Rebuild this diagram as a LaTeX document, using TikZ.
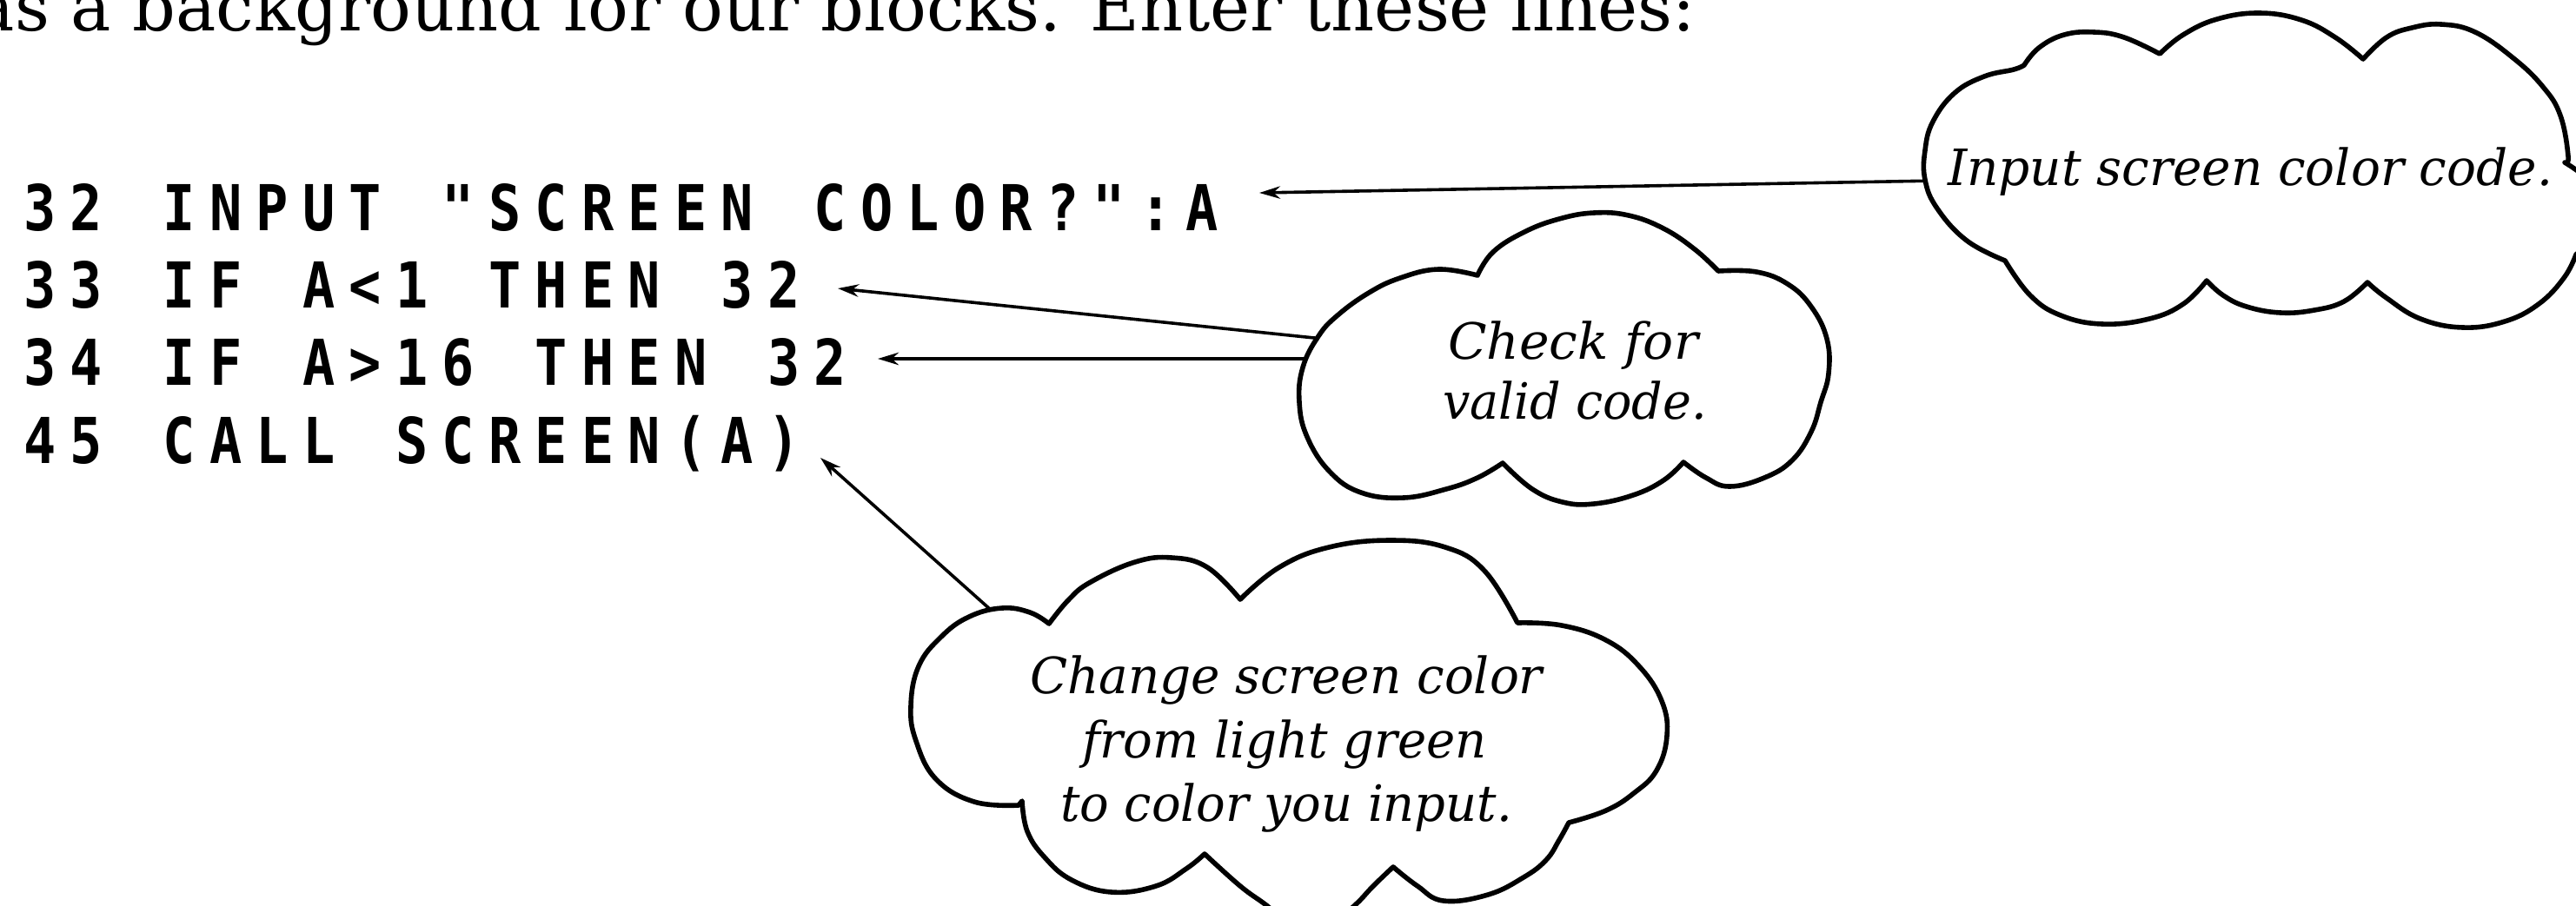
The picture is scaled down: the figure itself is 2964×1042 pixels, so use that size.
\documentclass[tikz,border=0pt]{standalone}
\usepackage{fontspec}
\usepackage{graphicx}
\setmainfont{DejaVu Serif}
\newfontfamily\tifont{DejaVu Sans Mono}
\newfontfamily\cloudfont{DejaVu Serif}
\usetikzlibrary{arrows.meta}
\newlength\tipitch
\setlength\tipitch{13.375pt}
\newcommand\tichar[1]{\makebox[\tipitch][c]{\scalebox{0.85}[1]{#1}}}
\makeatletter
\def\tiline#1{\ti@line#1\relax}
\def\ti@line#1{\ifx#1\relax\else\tichar{#1}\expandafter\ti@line\fi}
\makeatother
\begin{document}
\begin{tikzpicture}[x=0.25pt,y=-0.25pt,
  cloudline/.style={draw=black, line width=1.4pt, fill=white, line join=round},
  callout/.style={line width=0.9pt, -{Stealth[length=6pt,width=3.6pt]}},
  codeline/.style={anchor=base west, inner sep=0pt, font=\tifont\bfseries\fontsize{18.2pt}{18.2pt}\selectfont},
  note/.style={anchor=base, inner sep=0pt, font=\cloudfont\itshape\fontsize{14.4pt}{17pt}\selectfont},
  lobe/.style={smooth, tension=0.7}]
\useasboundingbox (0,0) rectangle (2964,1042);

% intro text (cut at the top)
\node[anchor=base west, inner sep=0pt, font=\fontsize{19.5pt}{20pt}\selectfont] (intro) at (-30,35)
  {\resizebox{495pt}{\height}{as a background for our blocks. Enter these lines:}};

% program lines
\node[codeline] (l32) at (18.25,265) {\tiline{32~INPUT~"SCREEN~COLOR?":A}};
\node[codeline] (l33) at (18.25,354) {\tiline{33~IF~A<1~THEN~32}};
\node[codeline] (l34) at (18.25,443) {\tiline{34~IF~A>16~THEN~32}};
\node[codeline] (l45) at (18.25,533) {\tiline{45~CALL~SCREEN(A)}};

% connector end points
\coordinate (t1) at (1449,222);
\coordinate (t2) at (964,332);
\coordinate (t3) at (1010,413);
\coordinate (t4) at (944,527);
\coordinate (c1a) at (2228,208);
\coordinate (c2a) at (1522,390);
\coordinate (c2b) at (1512,413);
\coordinate (c3a) at (1150,711);

\draw[callout] (c1a) -- (t1);
\draw[callout] (c2a) -- (t2);
\draw[callout] (c2b) -- (t3);
\draw[callout] (c3a) -- (t4);

% cloud 1
\draw[cloudline] plot[lobe] coordinates {(2307,300) (2263,277) (2229,240) (2215,207) (2215,173) (2224,140) (2249,107) (2283,88) (2317,80) (2329,75)}
 -- plot[lobe] coordinates {(2329,75) (2346,55) (2375,40) (2410,37) (2444,43) (2485,62)}
 -- plot[lobe] coordinates {(2485,62) (2512,40) (2551,22) (2600,15) (2648,23) (2687,43) (2719,68)}
 -- plot[lobe] coordinates {(2719,68) (2746,43) (2775,32) (2809,28) (2848,37) (2892,67) (2926,100) (2946,133) (2955,180) (2951,187)}
 -- plot[lobe] coordinates {(2951,187) (2985,215) (2995,255) (2964,293)}
 -- plot[lobe] coordinates {(2964,293) (2950,320) (2921,350) (2882,370) (2834,377) (2785,367) (2746,343) (2724,325)}
 -- plot[lobe] coordinates {(2724,325) (2697,347) (2663,357) (2624,360) (2585,353) (2558,340) (2539,323)}
 -- plot[lobe] coordinates {(2539,323) (2512,350) (2473,367) (2419,373) (2371,363) (2336,340) (2307,300)}
 -- cycle;

% cloud 2
\draw[cloudline] plot[lobe] coordinates {(1700,317) (1718,290) (1754,267) (1794,252) (1834,245) (1874,248) (1914,263) (1950,287) (1977,312)}
 -- plot[lobe] coordinates {(1977,312) (2021,313) (2057,327) (2084,353) (2102,390) (2104,430) (2095,463) (2084,497) (2062,530) (2030,550) (1990,560) (1963,550) (1937,532)}
 -- plot[lobe] coordinates {(1937,532) (1914,553) (1879,570) (1834,580) (1798,578) (1763,563) (1729,533)}
 -- plot[lobe] coordinates {(1729,533) (1700,550) (1664,563) (1615,573) (1566,567) (1530,543) (1504,503) (1495,463) (1499,423) (1517,387) (1539,363) (1575,337) (1611,320) (1655,310) (1700,317)}
 -- cycle;

% cloud 3
\draw[cloudline] plot[lobe] coordinates {(1172,927) (1121,923) (1077,897) (1054,853) (1048,813) (1057,767) (1083,733) (1115,710) (1153,700) (1185,705) (1207,718)}
 -- plot[lobe] coordinates {(1207,718) (1230,690) (1255,670) (1306,647) (1348,642) (1389,653) (1427,690)}
 -- plot[lobe] coordinates {(1427,690) (1472,653) (1529,630) (1600,622) (1663,630) (1708,657) (1746,717)}
 -- plot[lobe] coordinates {(1746,717) (1797,720) (1848,737) (1886,767) (1912,807) (1918,847) (1906,887) (1880,913) (1848,933) (1805,947)}
 -- plot[lobe] coordinates {(1805,947) (1794,967) (1779,990) (1753,1010) (1712,1030) (1661,1037) (1631,1020) (1603,998)}
 -- plot[lobe] coordinates {(1603,998) (1580,1020) (1559,1042) (1530,1065) (1490,1068) (1457,1042) (1427,1020) (1386,983)}
 -- plot[lobe] coordinates {(1386,983) (1365,1000) (1330,1020) (1279,1027) (1233,1013) (1202,987) (1182,957) (1176,922)}
 -- cycle;

% cloud texts
\node[note] (n1) at (2589,213) {\resizebox{174pt}{\height}{Input screen color code.}};
\node[note] (n2a) at (1810,413) {\resizebox{72pt}{\height}{Check for}};
\node[note] (n2b) at (1812,482) {\resizebox{76pt}{\height}{valid code.}};
\node[note] (n3a) at (1480,798) {\resizebox{147.5pt}{\height}{Change screen color}};
\node[note] (n3b) at (1478,872) {\resizebox{116.5pt}{\height}{from light green}};
\node[note] (n3c) at (1480,945) {\resizebox{130pt}{\height}{to color you input.}};
\end{tikzpicture}
\end{document}
